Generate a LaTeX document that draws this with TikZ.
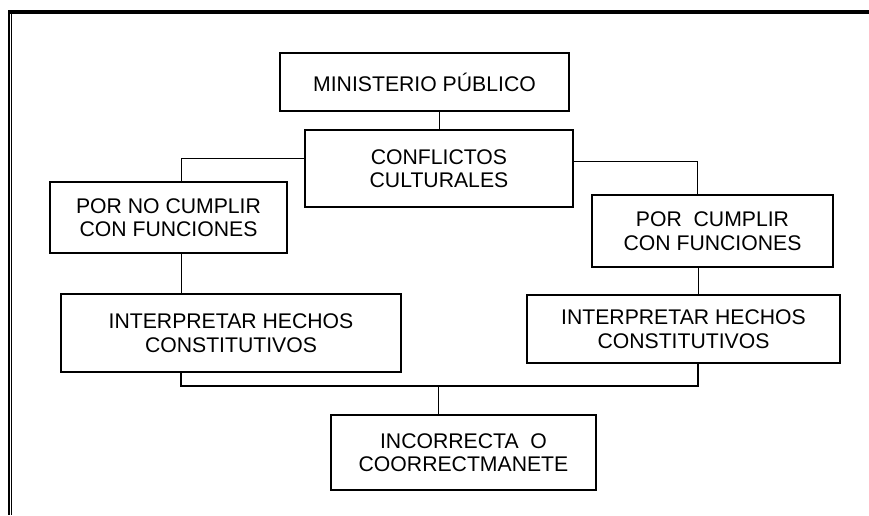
\documentclass[tikz,border=0pt]{standalone}
\usepackage{fontspec}
\setmainfont{Liberation Sans}
\usetikzlibrary{positioning}

\begin{document}
\begin{tikzpicture}[x=0.5pt,y=-0.5pt,font=\fontsize{10.6}{11.8}\selectfont,
  box/.style={draw,line width=0.75pt,align=center,inner sep=0pt},
  link/.style={line width=0.5pt}]
\useasboundingbox (0,0) rectangle (869,515);
\draw[line width=2pt] (8,12)--(869,12);
\draw[line width=1pt] (9,10)--(9,515);
\draw[line width=0.65pt] (11.7,14)--(11.7,515);
\node[box,minimum width=144.5pt,minimum height=29pt] (mp) at (424.5,82) {MINISTERIO PÚBLICO};
\node[box,minimum width=134pt,minimum height=38.5pt] (cc) at (439,168.5) {CONFLICTOS\\CULTURALES};
\node[box,minimum width=118.5pt,minimum height=35.5pt] (pnc) at (168.5,217.5) {POR NO CUMPLIR\\CON FUNCIONES};
\node[box,minimum width=120.5pt,minimum height=36pt] (pc) at (712.5,231) {POR\ \ CUMPLIR\\CON FUNCIONES};
\node[box,minimum width=170pt,minimum height=39pt] (ihl) at (231,333) {INTERPRETAR HECHOS\\CONSTITUTIVOS};
\node[box,minimum width=156.5pt,minimum height=34pt] (ihr) at (683.5,329) {INTERPRETAR HECHOS\\CONSTITUTIVOS};
\node[box,minimum width=132.5pt,minimum height=37.5pt] (inc) at (463.5,452.5) {INCORRECTA\ \ O\\COORRECTMANETE};
\coordinate (bus) at (438,386);
\draw[link] (mp.south -| cc.north) -- (cc.north);
\draw[link] ([yshift=5pt]cc.west) -| ([xshift=6.25pt]pnc.north);
\draw[link] ([yshift=3.75pt]cc.east) -| ([xshift=-7.75pt]pc.north);
\draw[link] ([xshift=6.25pt]pnc.south) -- ([xshift=6.25pt]pnc.south |- ihl.north);
\draw[link] ([xshift=-7.25pt]pc.south) -- ([xshift=-7.25pt]pc.south |- ihr.north);
\draw[line width=0.75pt] ([xshift=-25pt]ihl.south) |- (bus) -| ([xshift=7.25pt]ihr.south);
\draw[link] (bus) -- (bus |- inc.north);
\end{tikzpicture}
\end{document}
